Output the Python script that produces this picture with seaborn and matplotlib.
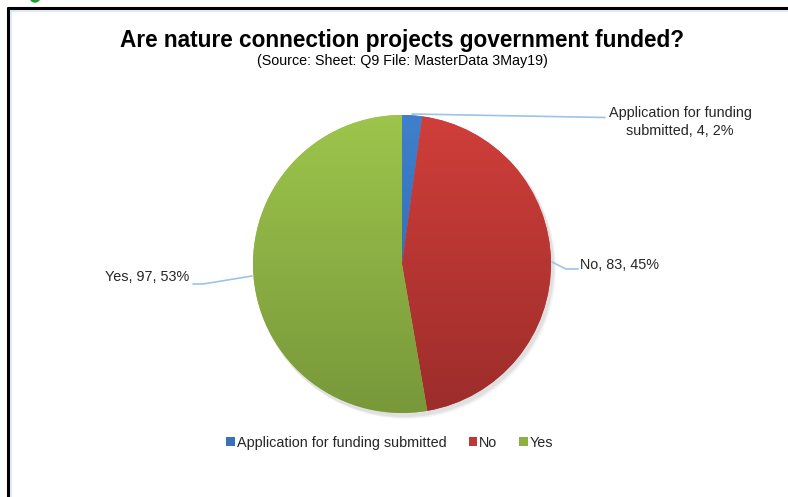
import numpy as np
import matplotlib
matplotlib.use("Agg")
import matplotlib.pyplot as plt
import matplotlib.colors as mcolors
from matplotlib.patches import Patch, Circle
from matplotlib.lines import Line2D
import seaborn as sns

# Survey answers: are nature connection projects government funded?
categories = ["Application for funding submitted", "No", "Yes"]
counts = [4, 83, 97]
label_names = ["Application for funding\nsubmitted", "No", "Yes"]

title = "Are nature connection projects government funded?"
subtitle = "(Source: Sheet: Q9 File: MasterData 3May19)"

# top / bottom shades of each slice's vertical gradient
top_colors = ["#3F80CC", "#D03E3A", "#9DC54C"]
bottom_colors = ["#2E62A6", "#9C2D2B", "#78983A"]
legend_colors = ["#3A72BA", "#BE3836", "#8CB044"]

sns.set_theme(style="white")
plt.rcParams["font.family"] = ["Liberation Sans", "DejaVu Sans"]

W, H = 788, 497
fig = plt.figure(figsize=(W / 100, H / 100), dpi=100)
ax = fig.add_axes([0, 0, 1, 1])


def Y(py):
    return H - py


cx, cy, r = 402, Y(264), 149

# soft drop shadow under the pie
for i, a in enumerate([0.05, 0.04, 0.03]):
    ax.add_patch(Circle((cx + 2 + i, cy - 3 - i), r + 1, color="black",
                        alpha=a, lw=0, zorder=1))

wedges, _ = ax.pie(counts, startangle=90, counterclock=False,
                   center=(cx, cy), radius=r,
                   colors=top_colors, wedgeprops=dict(lw=0),
                   frame=True)
ax.set_xlim(0, W)
ax.set_ylim(0, H)
ax.set_aspect("equal")
ax.axis("off")

for w, c0, c1 in zip(wedges, top_colors, bottom_colors):
    w.set_zorder(2)
    cmap = mcolors.LinearSegmentedColormap.from_list("g", [c1, c0])
    grad = np.linspace(0, 1, 256).reshape(-1, 1)
    im = ax.imshow(grad, cmap=cmap, origin="lower", aspect="auto",
                   extent=(cx - r, cx + r, cy - r, cy + r), zorder=3,
                   interpolation="bilinear")
    im.set_clip_path(w)

total = sum(counts)
line_color = "#9DC3E6"
text_kw = dict(fontsize=10.4, color="#262626", zorder=5)

labels = [f"{n}, {v}, {round(100 * v / total)}%" for n, v in zip(label_names, counts)]

# Application for funding submitted
ax.plot([412, 605], [Y(114), Y(117.5)], color=line_color, lw=1.2, zorder=4)
ax.text(680, Y(122), labels[0], ha="center", va="center",
        multialignment="center", linespacing=1.45, **text_kw)

# No
ax.plot([552, 566, 578], [Y(262), Y(269), Y(269)], color=line_color, lw=1.2, zorder=4)
ax.text(580, Y(265), labels[1], ha="left", va="center", **text_kw)

# Yes
ax.plot([252, 203, 193], [Y(276), Y(284), Y(284)], color=line_color, lw=1.2, zorder=4)
ax.text(189, Y(277), labels[2], ha="right", va="center", **text_kw)

ax.text(402, Y(40), title, ha="center", va="center", fontsize=16.3,
        fontweight="bold", color="black")
ax.text(402, Y(61), subtitle, ha="center", va="center", fontsize=10.3,
        color="black")

handles = [Patch(facecolor=c, edgecolor="none") for c in legend_colors]
ax.legend(handles, categories, loc="center", bbox_to_anchor=(390 / W, 1 - 443 / H),
          ncol=3, frameon=False, fontsize=10.4, handlelength=0.6,
          handleheight=0.6, handletextpad=0.15, columnspacing=1.5,
          labelcolor="#262626")

# frame edges and marker around the chart area
fig.add_artist(Line2D([8 / W, 1], [1 - 8 / H, 1 - 8 / H], color="black", lw=2.2))
fig.add_artist(Line2D([8 / W, 8 / W], [0, 1 - 8 / H], color="black", lw=2.2))
fig.add_artist(Line2D([10.5 / W, 1], [1 - 10.5 / H, 1 - 10.5 / H], color="#DCE8F5", lw=1.2))
fig.add_artist(Line2D([10.5 / W, 10.5 / W], [0, 1 - 10.5 / H], color="#DCE8F5", lw=1.2))
ax.add_patch(Circle((35, Y(-3)), 5, color="#1E9E2E", zorder=6, clip_on=True))

fig.savefig("out.png", dpi=100)
